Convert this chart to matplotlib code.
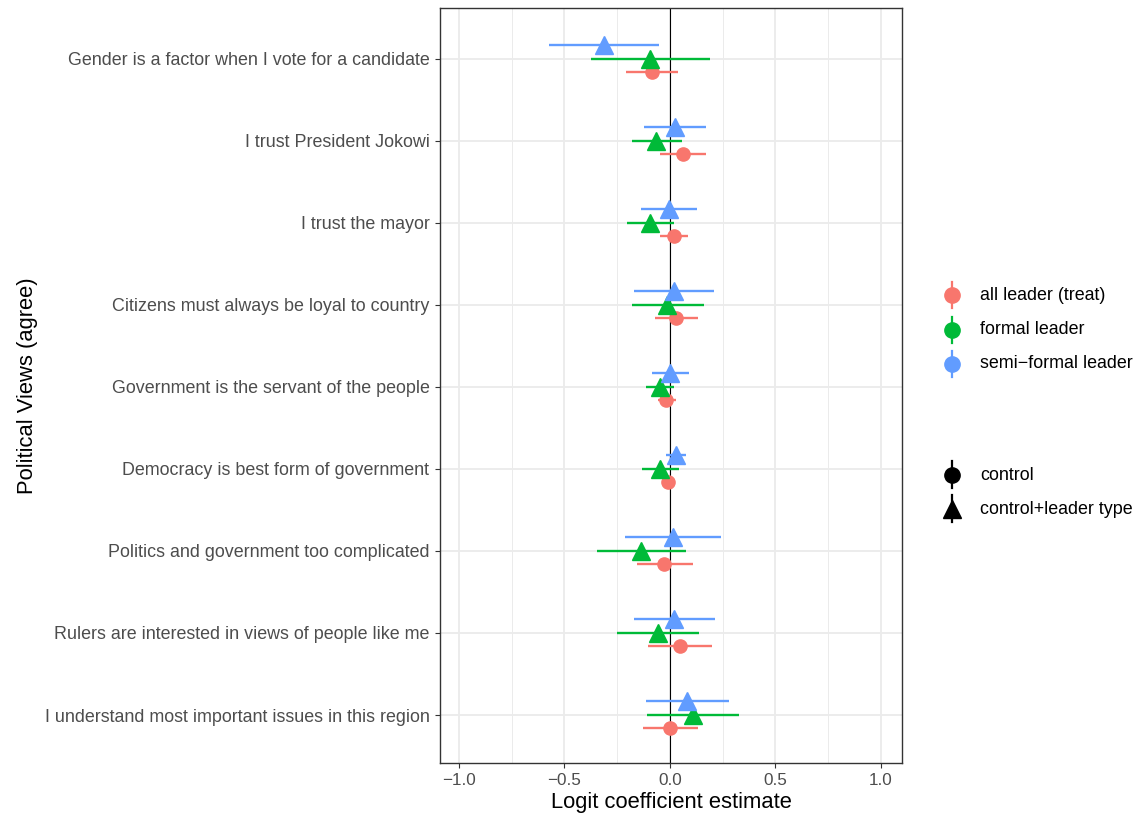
import matplotlib.pyplot as plt
import numpy as np

plt.rcParams['font.family'] = ['Liberation Sans', 'DejaVu Sans']

# survey items, bottom to top
items = [
    "I understand most important issues in this region",
    "Rulers are interested in views of people like me",
    "Politics and government too complicated",
    "Democracy is best form of government",
    "Government is the servant of the people",
    "Citizens must always be loyal to country",
    "I trust the mayor",
    "I trust President Jokowi",
    "Gender is a factor when I vote for a candidate",
]

# all leader (treat), control model
treat_est = [-0.001, 0.046, -0.028, -0.008, -0.017, 0.028, 0.019, 0.064, -0.087]
treat_lo = [-0.128, -0.106, -0.157, -0.030, -0.055, -0.071, -0.049, -0.049, -0.210]
treat_hi = [0.131, 0.201, 0.109, 0.015, 0.027, 0.131, 0.087, 0.173, 0.037]

# formal leader, control+leader type model
formal_est = [0.108, -0.057, -0.138, -0.046, -0.049, -0.012, -0.096, -0.065, -0.093]
formal_lo = [-0.109, -0.252, -0.346, -0.131, -0.112, -0.178, -0.204, -0.182, -0.373]
formal_hi = [0.327, 0.138, 0.075, 0.043, 0.021, 0.160, 0.021, 0.056, 0.188]

# semi-formal leader, control+leader type model
semi_est = [0.081, 0.021, 0.014, 0.027, 0.002, 0.019, -0.005, 0.024, -0.313]
semi_lo = [-0.112, -0.172, -0.214, -0.020, -0.084, -0.169, -0.138, -0.122, -0.571]
semi_hi = [0.280, 0.214, 0.242, 0.078, 0.090, 0.207, 0.128, 0.173, -0.052]

colors = {"treat": "#F8766D", "formal": "#00BA38", "semi": "#619CFF"}

fig = plt.figure(figsize=(11.4, 8.18), dpi=100)
ax = fig.add_axes([440 / 1140, 1 - 763 / 818, 462 / 1140, 755 / 818])

y = np.arange(len(items))

series = [
    (treat_est, treat_lo, treat_hi, colors["treat"], "o", 9.5, -0.16),
    (formal_est, formal_lo, formal_hi, colors["formal"], "^", 12.5, 0.0),
    (semi_est, semi_lo, semi_hi, colors["semi"], "^", 12.5, 0.17),
]
for est, lo, hi, col, mk, ms, off in series:
    est = np.array(est)
    ax.hlines(y + off, lo, hi, color=col, lw=1.7, zorder=3)
    ax.plot(est, y + off, ls="none", marker=mk, ms=ms, color=col, zorder=4)

ax.axvline(0, color="black", lw=0.8, zorder=2)

ax.set_xlim(-1.09, 1.10)
ax.set_ylim(-0.585, 8.62)
ax.set_xticks([-1.0, -0.5, 0.0, 0.5, 1.0])
ax.set_xticklabels(["\u22121.0", "\u22120.5", "0.0", "0.5", "1.0"])
ax.set_xticks([-0.75, -0.25, 0.25, 0.75], minor=True)
ax.set_yticks(y)
ax.set_yticklabels(items)

ax.grid(which="major", color="#EBEBEB", lw=1.3, zorder=0)
ax.grid(which="minor", axis="x", color="#EBEBEB", lw=0.7, zorder=0)
ax.set_axisbelow(True)
for s in ax.spines.values():
    s.set_color("#333333")
    s.set_linewidth(1.0)
ax.tick_params(which="major", length=3.6, color="#333333", labelsize=12.9,
               labelcolor="#4D4D4D", pad=4)
ax.tick_params(axis="x", labelsize=12.3, pad=3.5)
ax.tick_params(which="minor", length=0)

ax.set_xlabel("Logit coefficient estimate", fontsize=15.8, labelpad=3)
ax.set_ylabel("Political Views (agree)", fontsize=15.8, labelpad=4.5)

# legend keys drawn in pixel coordinates
lax = fig.add_axes([0, 0, 1, 1])
lax.set_xlim(0, 1140)
lax.set_ylim(818, 0)
lax.axis("off")

color_labels = ["all leader (treat)", "formal leader", "semi\u2212formal leader"]
color_vals = [colors["treat"], colors["formal"], colors["semi"]]
for i, (lab, col) in enumerate(zip(color_labels, color_vals)):
    yy = 295 + i * 34.5
    lax.plot([952, 952], [yy - 13, yy + 13], color=col, lw=1.6)
    lax.plot(952, yy, marker="o", ms=11, color=col, ls="none")
    lax.text(980, yy, lab, fontsize=12.9, va="center", ha="left")

shape_labels = ["control", "control+leader type"]
shape_marks = ["o", "^"]
for i, (lab, mk) in enumerate(zip(shape_labels, shape_marks)):
    yy = 475 + i * 34
    lax.plot([952, 952], [yy - 14, yy + 13], color="black", lw=1.6)
    lax.plot(952, yy, marker=mk, ms=11 if mk == "o" else 13, color="black", ls="none")
    lax.text(980, yy, lab, fontsize=12.9, va="center", ha="left")

fig.savefig("out.png", dpi=100)
